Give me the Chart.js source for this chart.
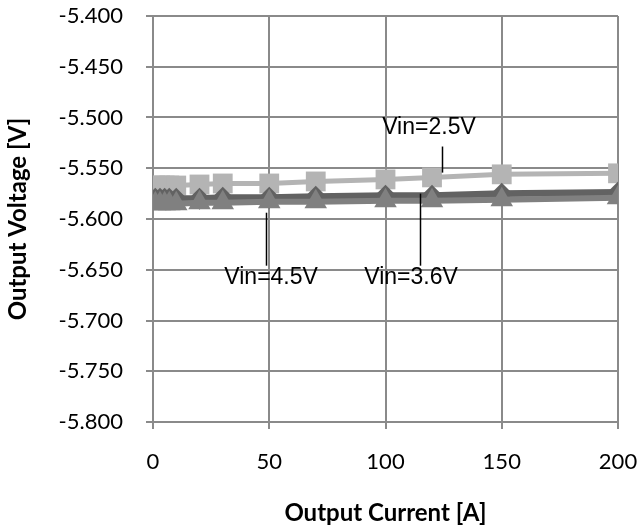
<!DOCTYPE html>
<html>
<head>
<meta charset="utf-8">
<script src="https://cdn.jsdelivr.net/npm/chart.js@4.4.1/dist/chart.umd.min.js"></script>
<style>
  html, body { margin: 0; padding: 0; background: #fff; }
  #wrap { width: 640px; height: 532px; position: relative; }
</style>
</head>
<body>
<div id="wrap"><canvas id="chart"></canvas></div>
<script>
// Output voltage vs output current, three input voltages

const current = [1, 3, 5, 7, 10, 20, 30, 50, 70, 100, 120, 150, 200];
const vin25 = [-5.567, -5.567, -5.567, -5.567, -5.567, -5.566, -5.565, -5.565, -5.563, -5.561, -5.559, -5.556, -5.555];
const vin36 = [-5.580, -5.580, -5.580, -5.580, -5.580, -5.580, -5.579, -5.579, -5.578, -5.577, -5.577, -5.575, -5.574];
const vin45 = [-5.585, -5.585, -5.585, -5.585, -5.585, -5.584, -5.584, -5.583, -5.583, -5.582, -5.582, -5.581, -5.579];

const xTicks = [0, 50, 100, 150, 200];
const yTicks = [-5.8, -5.75, -5.7, -5.65, -5.6, -5.55, -5.5, -5.45, -5.4];

// callout labels: text anchor + leader line, in data units
const callouts = [
    { text: 'Vin=2.5V', x: 118.7, y: -5.510, lx: 124.3, ly1: -5.5286, ly2: -5.5543 },
    { text: 'Vin=4.5V', x: 50.8, y: -5.658, lx: 48.5, ly1: -5.5938, ly2: -5.6460 },
    { text: 'Vin=3.6V', x: 111.0, y: -5.658, lx: 114.8, ly1: -5.5750, ly2: -5.6460 }
];

const GRID = '#8a8a8a';

function pts(ys) {
    return current.map((x, i) => ({ x: x, y: ys[i] }));
}

const calloutPlugin = {
    id: 'callouts',
    afterDatasetsDraw(chart) {
        const ctx = chart.ctx;
        const xs = chart.scales.x, ys = chart.scales.y;
        ctx.save();
        ctx.strokeStyle = '#000';
        ctx.lineWidth = 1.5;
        ctx.fillStyle = '#000';
        ctx.font = '23px "Liberation Sans", Arial, sans-serif';
        ctx.textAlign = 'center';
        ctx.textBaseline = 'middle';
        callouts.forEach(c => {
            const lx = Math.round(xs.getPixelForValue(c.lx)) + 0.5;
            ctx.beginPath();
            ctx.moveTo(lx, ys.getPixelForValue(c.ly1));
            ctx.lineTo(lx, ys.getPixelForValue(c.ly2));
            ctx.stroke();
            ctx.fillText(c.text, xs.getPixelForValue(c.x), ys.getPixelForValue(c.y));
        });
        ctx.restore();
    }
};

Chart.defaults.font.family = "Lato, 'Noto Sans', sans-serif";
Chart.defaults.color = '#000';

new Chart(document.getElementById('chart').getContext('2d'), {
    type: 'line',
    data: {
        datasets: [
            {
                label: 'Vin=2.5V', data: pts(vin25), order: 3,
                borderColor: '#b4b4b4', backgroundColor: '#b4b4b4',
                borderWidth: 5, pointStyle: 'rect', pointRadius: 14,
                pointBorderWidth: 0, tension: 0
            },
            {
                label: 'Vin=3.6V', data: pts(vin36), order: 2,
                borderColor: '#626262', backgroundColor: '#626262',
                borderWidth: 7, pointStyle: 'rectRot', pointRadius: 11,
                pointBorderWidth: 0, tension: 0
            },
            {
                label: 'Vin=4.5V', data: pts(vin45), order: 1,
                borderColor: '#808080', backgroundColor: '#808080',
                borderWidth: 6, pointStyle: 'triangle', pointRadius: 13,
                pointBorderWidth: 0, tension: 0
            }
        ]
    },
    options: {
        responsive: true, maintainAspectRatio: false,
        animation: false,
        layout: { padding: { top: 16, right: 22, left: 0, bottom: 0 } },
        plugins: { legend: { display: false }, tooltip: { enabled: false } },
        scales: {
            x: {
                type: 'linear', min: 0, max: 200,
                afterBuildTicks: s => { s.ticks = xTicks.map(v => ({ value: v })); },
                afterFit: s => { s.height = 110; s.paddingLeft = 0; s.paddingRight = 0; },
                grid: { color: GRID, lineWidth: 2, tickLength: 7, drawTicks: true },
                border: { color: GRID, width: 2 },
                ticks: { padding: 20, font: { size: 22 } },
                title: {
                    display: true, text: 'Output Current [A]',
                    font: { size: 24, weight: 'bold' }, padding: { top: 9 }
                }
            },
            y: {
                type: 'linear', min: -5.8, max: -5.4,
                afterBuildTicks: s => { s.ticks = yTicks.map(v => ({ value: v })); },
                afterFit: s => { s.width = 153; s.paddingTop = 0; s.paddingBottom = 0; },
                grid: { color: GRID, lineWidth: 2, tickLength: 7 },
                border: { color: GRID, width: 2 },
                ticks: { padding: 23, font: { size: 22 }, callback: v => v.toFixed(3) },
                title: {
                    display: true, text: 'Output Voltage [V]',
                    font: { size: 24, weight: 'bold' }, padding: { bottom: 0 }
                }
            }
        }
    },
    plugins: [calloutPlugin]
});
</script>
</body>
</html>
